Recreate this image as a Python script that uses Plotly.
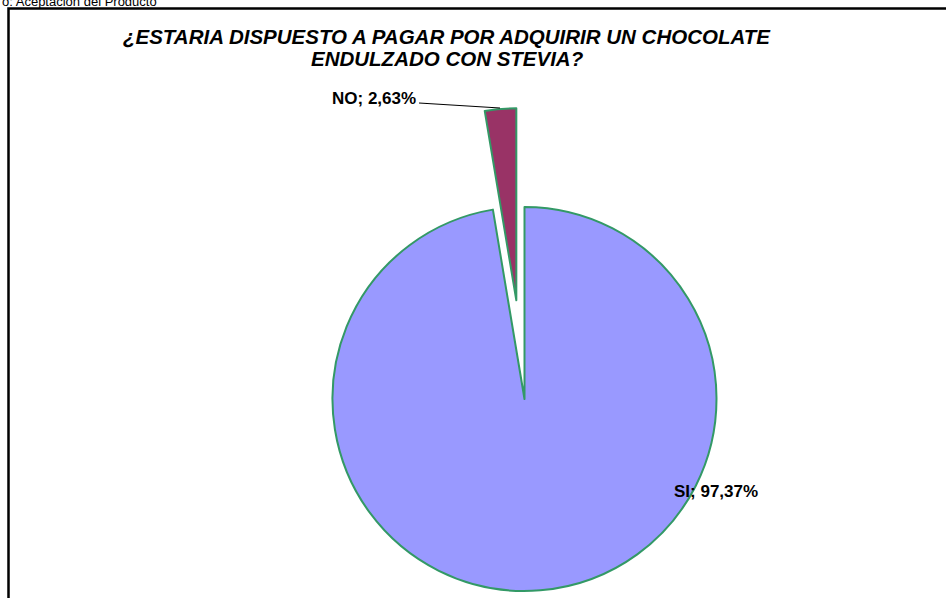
import math
import plotly.graph_objects as go

# ---- data ----
labels = ["SI", "NO"]
values = [37, 1]
title_lines = ["¿ESTARIA DISPUESTO A PAGAR POR ADQUIRIR UN CHOCOLATE", "ENDULZADO CON STEVIA?"]
caption = "o: Aceptación del Producto"

W, H = 946, 598
FONT = "Liberation Sans, Arial, sans-serif"

def px_x(x):
    return x / W

def px_y(y):
    return 1 - y / H

total = sum(values)
pcts = [v / total * 100 for v in values]
pct_txt = [f"{p:.2f}".replace(".", ",") + "%" for p in pcts]

colors = ["#9999FF", "#993366"]
edge = "#339966"
R = 192
cx, cy = 524.5, 399
pull_px = 99
# NO slice mid-angle (counter-clockwise from top)
mid = math.radians(pcts[1] / 100 * 360 / 2)
cx2 = cx - pull_px * math.sin(mid)
cy2 = cy - pull_px * math.cos(mid)

def dom(cxp, cyp):
    return dict(x=[px_x(cxp - R), px_x(cxp + R)], y=[px_y(cyp + R), px_y(cyp - R)])

fig = go.Figure()
fig.add_trace(go.Pie(
    labels=labels, values=values, sort=False, direction="clockwise", rotation=0,
    marker=dict(colors=[colors[0], "rgba(0,0,0,0)"], line=dict(color=edge, width=[2, 0])),
    textinfo="none", hoverinfo="label+percent", domain=dom(cx, cy), showlegend=False,
))
fig.add_trace(go.Pie(
    labels=labels, values=values, sort=False, direction="clockwise", rotation=0,
    marker=dict(colors=["rgba(0,0,0,0)", colors[1]], line=dict(color=edge, width=[0, 2])),
    textinfo="none", hoverinfo="label+percent", domain=dom(cx2, cy2), showlegend=False,
))

title_y = [37, 58]
annotations = [
    dict(text=f"<b><i>{line}</i></b>", x=px_x(447), y=px_y(yy),
         xref="paper", yref="paper", showarrow=False, xanchor="center", yanchor="middle",
         font=dict(family=FONT, size=20.5, color="#000000"), align="center")
    for line, yy in zip(title_lines, title_y)
]
annotations += [
    dict(text=f"<b>{labels[0]}; {pct_txt[0]}</b>", x=px_x(716), y=px_y(491),
         xref="paper", yref="paper", showarrow=False, xanchor="center", yanchor="middle",
         font=dict(family=FONT, size=17, color="#000000")),
    dict(text=f"<b>{labels[1]}; {pct_txt[1]}</b>", x=px_x(418), y=px_y(98),
         xref="paper", yref="paper", showarrow=False, xanchor="right", yanchor="middle",
         font=dict(family=FONT, size=17, color="#000000")),
    dict(text=caption, x=0, y=px_y(11), xref="paper", yref="paper", showarrow=False,
         xanchor="left", yanchor="bottom", font=dict(family=FONT, size=13, color="#000000")),
]

shapes = [
    dict(type="rect", xref="paper", yref="paper", x0=px_x(8.5), y0=px_y(640), x1=px_x(990), y1=px_y(8.5),
         line=dict(color="#000000", width=2.5), fillcolor="rgba(0,0,0,0)", layer="below"),
    dict(type="line", xref="paper", yref="paper", x0=px_x(419), y0=px_y(103), x1=px_x(500), y1=px_y(108),
         line=dict(color="#000000", width=1.2)),
]

fig.update_layout(
    width=W, height=H, margin=dict(l=0, r=0, t=0, b=0),
    paper_bgcolor="#FFFFFF", plot_bgcolor="#FFFFFF",
    annotations=annotations, shapes=shapes, showlegend=False,
)
fig.write_html("out.html")
